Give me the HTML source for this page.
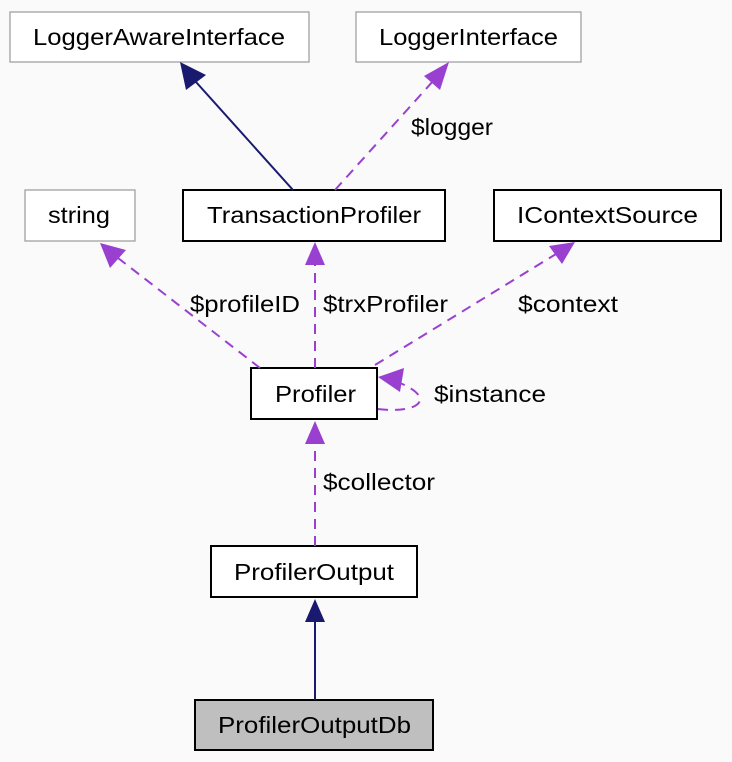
<!DOCTYPE html>
<html><head><meta charset="utf-8"><style>
html,body{margin:0;padding:0;background:#fafafa;}
svg{display:block;font-family:"Liberation Sans",sans-serif;}
</style></head><body>
<svg width="732" height="762" viewBox="0 0 732 762" xmlns="http://www.w3.org/2000/svg">
<rect width="732" height="762" fill="#fafafa"/>
<g fill="#fff" stroke="#a0a0a0" stroke-width="1.3">
<rect x="10" y="12" width="299" height="50"/>
<rect x="356" y="12" width="225" height="50"/>
<rect x="25" y="190" width="110" height="51"/>
</g>
<g fill="#fff" stroke="#000" stroke-width="2">
<rect x="183" y="190" width="262" height="51"/>
<rect x="494" y="190" width="227" height="51"/>
<rect x="251" y="368" width="126" height="51"/>
<rect x="211" y="546" width="206" height="51"/>
<rect x="195" y="700" width="238" height="50" fill="#bfbfbf"/>
</g>
<g font-size="23" fill="#000">
<text x="33" y="45" textLength="252" lengthAdjust="spacingAndGlyphs">LoggerAwareInterface</text>
<text x="379" y="45" textLength="179" lengthAdjust="spacingAndGlyphs">LoggerInterface</text>
<text x="48" y="223" textLength="62" lengthAdjust="spacingAndGlyphs">string</text>
<text x="207" y="223" textLength="214" lengthAdjust="spacingAndGlyphs">TransactionProfiler</text>
<text x="517" y="223" textLength="181" lengthAdjust="spacingAndGlyphs">IContextSource</text>
<text x="275" y="402" textLength="81" lengthAdjust="spacingAndGlyphs">Profiler</text>
<text x="234" y="580" textLength="160" lengthAdjust="spacingAndGlyphs">ProfilerOutput</text>
<text x="218" y="733" textLength="193" lengthAdjust="spacingAndGlyphs">ProfilerOutputDb</text>
</g>
<g fill="none" stroke-width="2">
<line x1="293" y1="190" x2="196" y2="82" stroke="#191970"/>
<line x1="315" y1="700" x2="315" y2="620" stroke="#191970"/>
<g stroke="#9a40d0" stroke-dasharray="10,7">
<line x1="335" y1="190" x2="434" y2="80"/>
<line x1="260" y1="368" x2="118" y2="258"/>
<line x1="315" y1="368" x2="315" y2="262"/>
<line x1="375" y1="365" x2="556" y2="254"/>
<line x1="315" y1="546" x2="315" y2="442"/>
<path d="M378 409 C420 414 436 398 400 383"/>
</g>
</g>
<g fill="#191970">
<polygon points="180,62 186,90 206,75"/>
<polygon points="315,599 305,622 325,622"/>
</g>
<g fill="#9a40d0">
<polygon points="449,62 424,76 440,90"/>
<polygon points="100,243 110,268 126,250"/>
<polygon points="315,242 305,265 325,265"/>
<polygon points="575,242 549,246 562,264"/>
<polygon points="315,421 305,444 325,444"/>
<polygon points="378,377 404,368 400,392"/>
</g>
<g font-size="23" fill="#000">
<text x="411" y="135" textLength="82" lengthAdjust="spacingAndGlyphs">$logger</text>
<text x="190" y="312" textLength="110" lengthAdjust="spacingAndGlyphs">$profileID</text>
<text x="323" y="312" textLength="125" lengthAdjust="spacingAndGlyphs">$trxProfiler</text>
<text x="518" y="312" textLength="100" lengthAdjust="spacingAndGlyphs">$context</text>
<text x="434" y="402" textLength="112" lengthAdjust="spacingAndGlyphs">$instance</text>
<text x="323" y="490" textLength="112" lengthAdjust="spacingAndGlyphs">$collector</text>
</g>
</svg>
</body></html>
